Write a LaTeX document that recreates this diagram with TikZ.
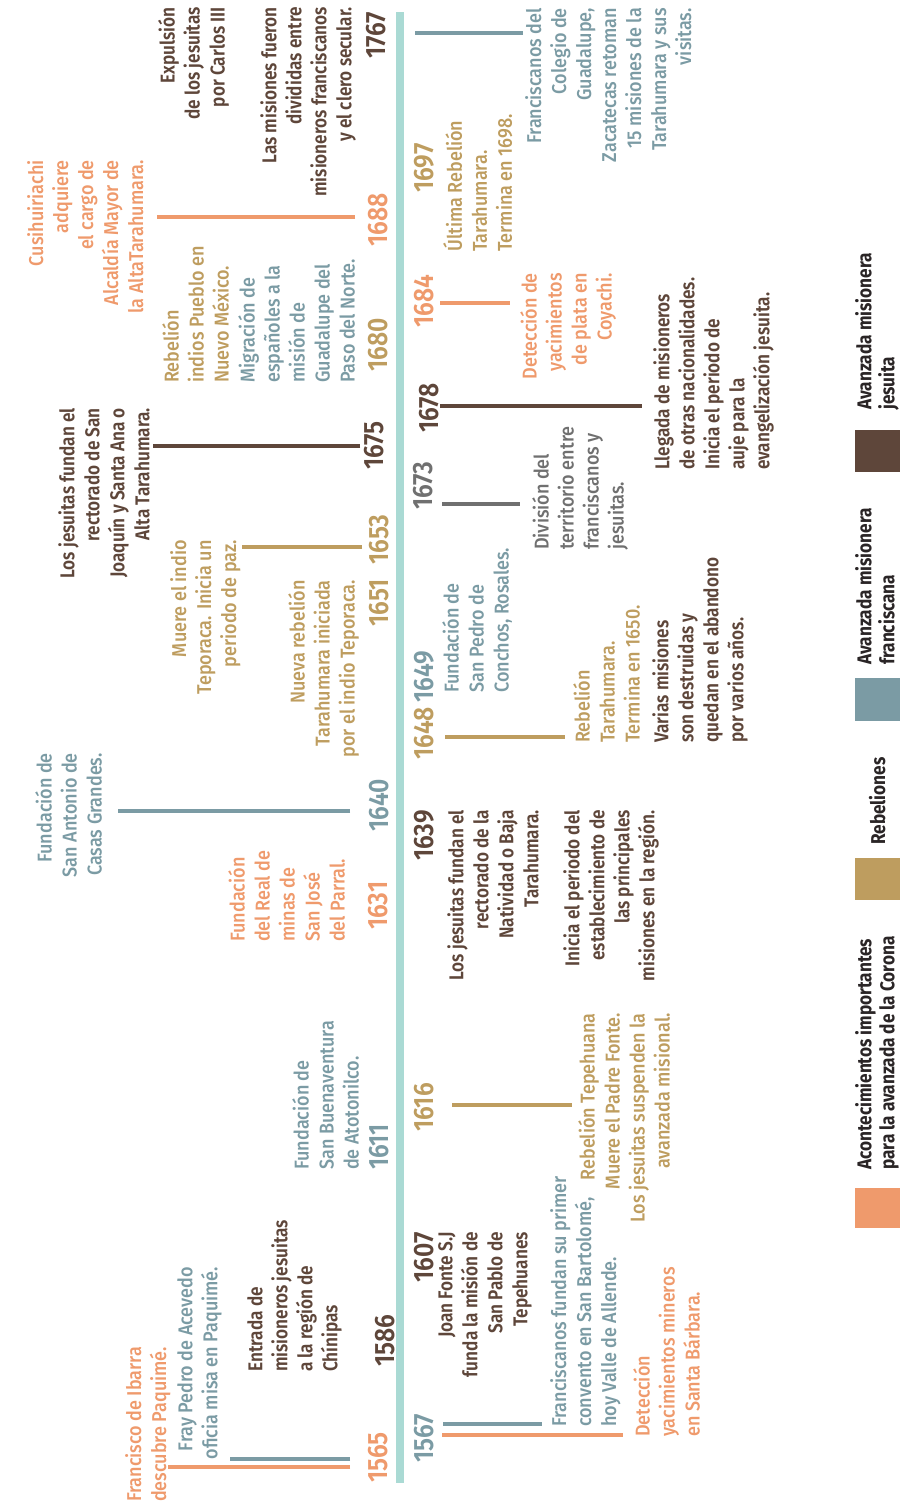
\documentclass[tikz,border=0pt]{standalone}
\usepackage{fontspec}
\setmainfont{Fira Sans}[FakeStretch=0.9]
\newfontfamily\medfont{Fira Sans Medium}[FakeStretch=0.9]
\newfontfamily\sbfont{Fira Sans SemiBold}[FakeStretch=0.86]
\newfontfamily\yrfam{Fira Sans SemiBold}[FakeStretch=0.88]
\newfontfamily\legfam{Fira Sans Bold}[FakeStretch=0.86]

\definecolor{cCor}{HTML}{EF9A6C}
\definecolor{cReb}{HTML}{BE9D5F}
\definecolor{cFra}{HTML}{7B9BA4}
\definecolor{cJes}{HTML}{5E463A}
\definecolor{cGry}{HTML}{707070}
\definecolor{cAxis}{HTML}{AADAD4}
\definecolor{cLeg}{HTML}{2A2526}

\newcommand\evfont{\medfont\fontsize{20}{25}\selectfont}
\newcommand\jesfont{\sbfont\fontsize{20}{25}\selectfont}
\newcommand\yearfont{\yrfam\fontsize{28}{28}\selectfont}
\newcommand\legendfont{\legfam\fontsize{20}{23}\selectfont}

\tikzset{
  ev/.style={inner sep=0pt, font=\evfont},
  evl/.style={ev, align=left, anchor=north west},
  evr/.style={ev, align=right, anchor=north east},
  jtxt/.style={font=\jesfont},
  yr/.style={inner sep=0pt, font=\yearfont, anchor=base west},
  yre/.style={yr, anchor=base east},
  tick/.style={line width=4pt},
  axisline/.style={line width=8pt, cAxis},
  legtxt/.style={inner sep=0pt, font=\legendfont, text=cLeg, align=left, anchor=north west}
}

\begin{document}
% The timeline is laid out horizontally and turned a quarter turn.
\begin{tikzpicture}[x=1pt,y=1pt,rotate=90,transform shape]
\path[use as bounding box, fill=white] (0,0) rectangle (1508,-906);

% main axis
\draw[axisline] (25,-400) -- (1496,-400);

% ---- years above the axis
\node[yr, cCor] (y1565) at (25,-387) {1565};
\node[yr, cJes] (y1586) at (141,-394) {1586};
\node[yr, cFra] (y1611) at (338,-388) {1611};
\node[yr, cCor] (y1631) at (578,-387) {1631};
\node[yr, cFra] (y1640) at (676,-388) {1640};
\node[yr, cReb] (y1651) at (881,-388) {1651};
\node[yr, cReb] (y1653) at (943,-388) {1653};
\node[yr, cJes] (y1675) at (1038,-383) {1675};
\node[yr, cReb] (y1680) at (1136,-387) {1680};
\node[yr, cCor] (y1688) at (1261,-387) {1688};
\node[yre, cJes] (y1767) at (1496,-385) {1767};

% ---- years below the axis
\node[yr, cFra] (y1567) at (45,-433) {1567};
\node[yre, cJes] (y1607) at (276,-433) {1607};
\node[yr, cReb] (y1616) at (376,-433) {1616};
\node[yre, cJes] (y1639) at (698,-433) {1639};
\node[yr, cReb] (y1648) at (748,-433) {1648};
\node[yr, cFra] (y1649) at (805,-433) {1649};
\node[yr, cGry] (y1673) at (998,-432) {1673};
\node[yr, cJes] (y1678) at (1075,-438) {1678};
\node[yr, cCor] (y1684) at (1180,-433) {1684};
\node[yr, cReb] (y1697) at (1315,-433) {1697};

% ---- ticks
\draw[tick, cCor] (41,-350) -- (41,-168);
\draw[tick, cFra] (49,-350) -- (49,-230);
\draw[tick, cFra] (84,-443) -- (84,-542);
\draw[tick, cCor] (73,-442) -- (73,-623);
\draw[tick, cReb] (403,-452) -- (403,-572);
\draw[tick, cFra] (697,-350) -- (697,-118);
\draw[tick, cReb] (771,-445) -- (771,-565);
\draw[tick, cReb] (961,-362) -- (961,-242);
\draw[tick, cGry] (1004,-442) -- (1004,-520);
\draw[tick, cJes] (1062,-360) -- (1062,-153);
\draw[tick, cJes] (1102,-440) -- (1102,-642);
\draw[tick, cCor] (1205,-440) -- (1205,-510);
\draw[tick, cCor] (1291,-355) -- (1291,-157);
\draw[tick, cFra] (1475,-415) -- (1475,-523);

% ---- events above the axis
\node[evl, cCor] (ibarra) at (6,-125) {Francisco de Ibarra\\descubre Paquimé.};
\node[evr, cFra] (acevedo) at (241,-177) {Fray Pedro de Acevedo\\oficia misa en Paquimé.};
\node[evl, cJes, jtxt] (entrada) at (136,-247) {Entrada de\\misioneros jesuitas\\a la región de\\Chínipas};
\node[evl, cFra] (atotonilco) at (338,-292) {Fundación de\\San Buenaventura\\de Atotonilco.};
\node[evl, cCor] (parral) at (566,-228) {Fundación\\del Real de\\minas de\\San José\\del Parral.};
\node[evr, cFra] (casas) at (755,-35) {Fundación de\\San Antonio de\\Casas Grandes.};
\node[evr, cReb] (teporaca) at (968,-170) {Muere el indio\\Teporaca. Inicia un\\periodo de paz.};
\node[evr, cReb] (nueva) at (928,-288) {Nueva rebelión\\Tarahumara iniciada\\por el indio Teporaca.};
\node[evr, cJes, jtxt] (sanjoaquin) at (1100,-58) {Los jesuitas fundan el\\rectorado de San\\Joaquín y Santa Ana o\\Alta Tarahumara.};
\node[evl, cReb] (pueblo) at (1125,-162) {Rebelión\\indios Pueblo en\\Nuevo México.};
\node[evl, cFra] (migracion) at (1125,-238) {Migración de\\españoles a la\\misión de\\Guadalupe del\\Paso del Norte.};
\node[evr, cCor] (cusi) at (1348,-27) {Cusihuiriachi\\adquiere\\el cargo de\\Alcaldía Mayor de\\la AltaTarahumara.};
\node[evr, cJes, jtxt] (expulsion) at (1501,-158) {Expulsión\\de los jesuitas\\por Carlos III};
\node[evr, cJes, jtxt] (clero) at (1501,-260) {Las misiones fueron\\divididas entre\\misioneros franciscanos\\y el clero secular.};

% ---- events below the axis
\node[evl, cFra] (bartolome) at (81,-550) {Franciscanos fundan su primer\\convento en San Bartolomé,\\hoy Valle de Allende.};
\node[evl, cCor] (barbara) at (71,-633) {Detección\\yacimientos mineros\\en Santa Bárbara.};
\node[evr, cJes, jtxt] (fonte) at (276,-438) {Joan Fonte S.J\\funda la misión de\\San Pablo de\\Tepehuanes};
\node[evr, cReb] (tepehuana) at (495,-578) {Rebelión Tepehuana\\Muere el Padre Fonte.\\Los jesuitas suspenden la\\avanzada misional.};
\node[evr, cJes, jtxt] (natividad) at (698,-447) {Los jesuitas fundan el\\rectorado de la\\Natividad o Baja\\Tarahumara.};
\node[evr, cJes, jtxt] (establec) at (698,-563) {Inicia el periodo del\\establecimiento de\\las principales\\misiones en la región.};
\node[evl, cFra] (conchos) at (815,-442) {Fundación de\\San Pedro de\\Conchos, Rosales.};
\node[evl, cReb] (rebelion1650) at (765,-573) {Rebelión\\Tarahumara.\\Termina en 1650.};
\node[evl, cJes, jtxt] (abandono) at (765,-652) {Varias misiones\\son destruidas y\\quedan en el abandono\\por varios años.};
\node[evl, cGry] (division) at (958,-532) {División del\\territorio entre\\franciscanos y\\jesuitas.};
\node[evl, cJes, jtxt] (llegada) at (1038,-653) {Llegada de misioneros\\de otras nacionalidades.\\Inicia el periodo de\\auje para la\\evangelización jesuita.};
\node[evr, cCor] (coyachi) at (1235,-520) {Detección de\\yacimientos\\de plata en\\Coyachi.};
\node[evl, cReb] (ultima) at (1256,-443) {Última Rebelión\\Tarahumara.\\Termina en 1698.};
\node[evr, cFra] (colegio) at (1500,-525) {Franciscanos del\\Colegio de\\Guadalupe,\\Zacatecas retoman\\15 misiones de la\\Tarahumara y sus\\visitas.};

% ---- legend
\fill[cCor] (280,-855) rectangle (320,-900);
\node[legtxt] (legcor) at (338,-855) {Acontecimientos importantes\\para la avanzada de la Corona};
\fill[cReb] (608,-855) rectangle (650,-900);
\node[legtxt, anchor=base west] (legreb) at (663,-885) {Rebeliones};
\fill[cFra] (787,-855) rectangle (830,-900);
\node[legtxt] (legfra) at (843,-855) {Avanzada misionera\\franciscana};
\fill[cJes] (1036,-855) rectangle (1078,-900);
\node[legtxt] (legjes) at (1098,-855) {Avanzada misionera\\jesuita};
\end{tikzpicture}
\end{document}
